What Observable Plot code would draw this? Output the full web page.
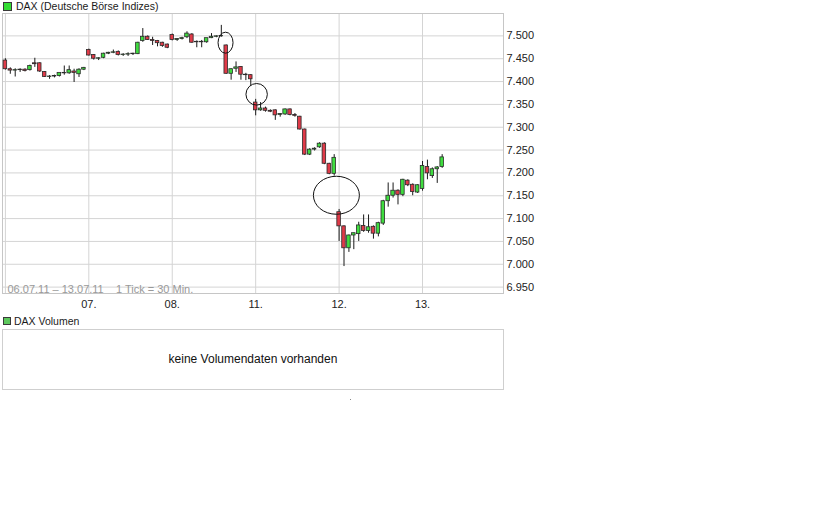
<!DOCTYPE html>
<html><head><meta charset="utf-8">
<script src="https://cdn.jsdelivr.net/npm/d3@7"></script>
<script src="https://cdn.jsdelivr.net/npm/@observablehq/plot@0.6"></script>
<style>
html,body{margin:0;padding:0;background:#fff}
body{width:840px;height:525px;position:relative;overflow:hidden;font-family:"Liberation Sans",Arial,sans-serif}
.abs{position:absolute}
.leg{font-size:10.5px;color:#1a1a1a;white-space:nowrap;line-height:12px}
.sw{position:absolute;box-sizing:border-box;border:1px solid #3a3a3a}
#vol{position:absolute;left:2px;top:329px;width:502px;height:61px;box-sizing:border-box;border:1px solid #cfcfcf;display:flex;align-items:center;justify-content:center;font-size:12px;color:#111}
</style></head><body>
<div id="chart" class="abs" style="left:0;top:0"></div>
<div class="abs leg" style="left:16px;top:0px">DAX (Deutsche Börse Indizes)</div>
<div class="sw" style="left:3px;top:2px;width:9px;height:9px;background:#33dd33"></div>
<div class="abs leg" style="left:14px;top:315px">DAX Volumen</div>
<div class="sw" style="left:3px;top:317px;width:8px;height:8px;background:#5cc85c"></div>
<div id="vol"><span style="margin-top:-2px">keine Volumendaten vorhanden</span></div>
<div class="abs" style="left:350px;top:399px;width:1px;height:1px;background:#888"></div>
<script>
// 30-minute candles, 17 per trading day (06.07.11 - 13.07.11)
const open = [
  7446,7427,7424,7425,7426,7425,7440,7440,7421,7410,7411,7412,7419,7418,7422,7416,7426,
  7469,7458,7450,7452,7461,7463,7465,7458,7459,7460,7460,7489,7498,7491,7489,7485,7481,
  7502,7491,7493,7497,7503,7486,7487,7486,7495,7498,7499,7479,7417,7428,7432,7415,7414,
  7354,7337,7341,7336,7337,7327,7328,7339,7327,7323,7295,7240,7251,7256,7264,7220,7198,
  7114,7083,7035,7063,7066,7084,7073,7082,7067,7089,7138,7150,7161,7152,7183,7174,7157,
  7165,7213,7193,7208,7213
];
const high = [
  7450,7430,7428,7428,7428,7436,7451,7441,7422,7413,7414,7414,7434,7434,7427,7428,7431,
  7471,7459,7452,7462,7464,7469,7467,7461,7463,7462,7486,7516,7500,7497,7490,7486,7482,
  7504,7494,7497,7509,7505,7489,7490,7492,7505,7500,7523,7480,7428,7443,7433,7418,7415,
  7361,7354,7344,7338,7338,7330,7340,7340,7330,7324,7296,7253,7255,7266,7266,7221,7240,
  7120,7084,7064,7068,7092,7108,7108,7084,7092,7140,7178,7178,7163,7186,7185,7176,7174,
  7225,7228,7211,7214,7240
];
const low = [
  7425,7416,7410,7420,7421,7423,7431,7420,7409,7405,7408,7410,7414,7416,7398,7409,7424,
  7456,7447,7446,7450,7459,7461,7456,7455,7455,7457,7459,7486,7490,7479,7476,7475,7472,
  7489,7488,7491,7494,7484,7474,7474,7484,7494,7496,7497,7416,7403,7420,7403,7402,7390,
  7325,7335,7333,7332,7315,7322,7326,7325,7322,7294,7238,7238,7248,7254,7218,7196,7193,
  7050,6995,7026,7032,7050,7070,7068,7055,7060,7085,7125,7145,7130,7148,7170,7150,7155,
  7160,7185,7188,7177,7210
];
const close = [
  7427,7424,7425,7426,7423,7434,7438,7422,7410,7411,7412,7419,7418,7425,7419,7426,7430,
  7457,7450,7451,7461,7463,7464,7458,7459,7460,7461,7485,7498,7491,7489,7484,7478,7474,
  7491,7493,7495,7505,7485,7487,7486,7495,7498,7499,7500,7417,7427,7431,7415,7414,7405,
  7337,7341,7336,7334,7326,7329,7339,7327,7325,7295,7240,7251,7253,7264,7220,7198,7233,
  7083,7035,7063,7068,7085,7073,7081,7067,7090,7138,7150,7161,7152,7185,7173,7158,7173,
  7215,7199,7208,7212,7234
];
const dayStart = [0, 17, 34, 51, 68, 85];
const dayLabels = ["06.", "07.", "08.", "11.", "12.", "13."];
const yTicks = [6950, 7000, 7050, 7100, 7150, 7200, 7250, 7300, 7350, 7400, 7450, 7500];
const rangeText = "06.07.11 \u2013 13.07.11\u00a0\u00a0\u00a0 1 Tick = 30 Min.";
// gap markers (candle index, price)
const gapIndex = [44.96, 51.3, 67.55];
const gapPrice = [7484, 7371, 7150];
const gapRx = [7.5, 10.7, 23];
const gapRy = [10.5, 10.8, 19];

const RED = "#e03a48", GREEN = "#3fdc3f";
const candles = open.map((o, i) => ({i, o, h: high[i], l: low[i], c: close[i]}));
const fmt = v => d3.format(",")(v).replace(",", ".");

const chart = Plot.plot({
  width: 540, height: 312,
  marginTop: 13, marginRight: 37, marginBottom: 19, marginLeft: 2,
  style: {fontFamily: '"Liberation Sans", Arial, sans-serif', fontSize: "11px", color: "#222", background: "transparent", overflow: "visible"},
  x: {domain: [-0.59, 101.5], ticks: dayStart.slice(1), tickFormat: i => dayLabels[dayStart.indexOf(i)], tickSize: 0, tickPadding: 7, label: null},
  y: {domain: [6936, 7549], ticks: yTicks, tickFormat: fmt, axis: "right", tickSize: 0, tickPadding: 3, label: null},
  color: {type: "identity"},
  marks: [
    Plot.ruleY(yTicks, {stroke: "#d4d4d4"}),
    Plot.ruleX(dayStart, {stroke: "#d4d4d4"}),
    Plot.frame({stroke: "#c6c6c6"}),
    Plot.text([rangeText], {frameAnchor: "bottom-left", dx: 5, dy: -1, fill: "#999", fontSize: 11}),
    Plot.ruleX(candles, {x: "i", y1: "l", y2: "h", stroke: "#1a1a1a", strokeWidth: 1}),
    Plot.rect(candles, {x1: d => d.i - 0.36, x2: d => d.i + 0.36, y1: "o", y2: "c",
      fill: d => d.c < d.o ? RED : GREEN, stroke: "#2a2a2a", strokeWidth: 0.8}),
    (index, scales) => {
      const g = d3.create("svg:g").attr("fill", "none").attr("stroke", "#111").attr("stroke-width", 1);
      gapIndex.forEach((gi, j) => {
        g.append("ellipse").attr("cx", scales.x(gi)).attr("cy", scales.y(gapPrice[j]))
          .attr("rx", gapRx[j]).attr("ry", gapRy[j]);
      });
      return g.node();
    }
  ]
});
document.getElementById("chart").append(chart);
</script>
</body></html>
